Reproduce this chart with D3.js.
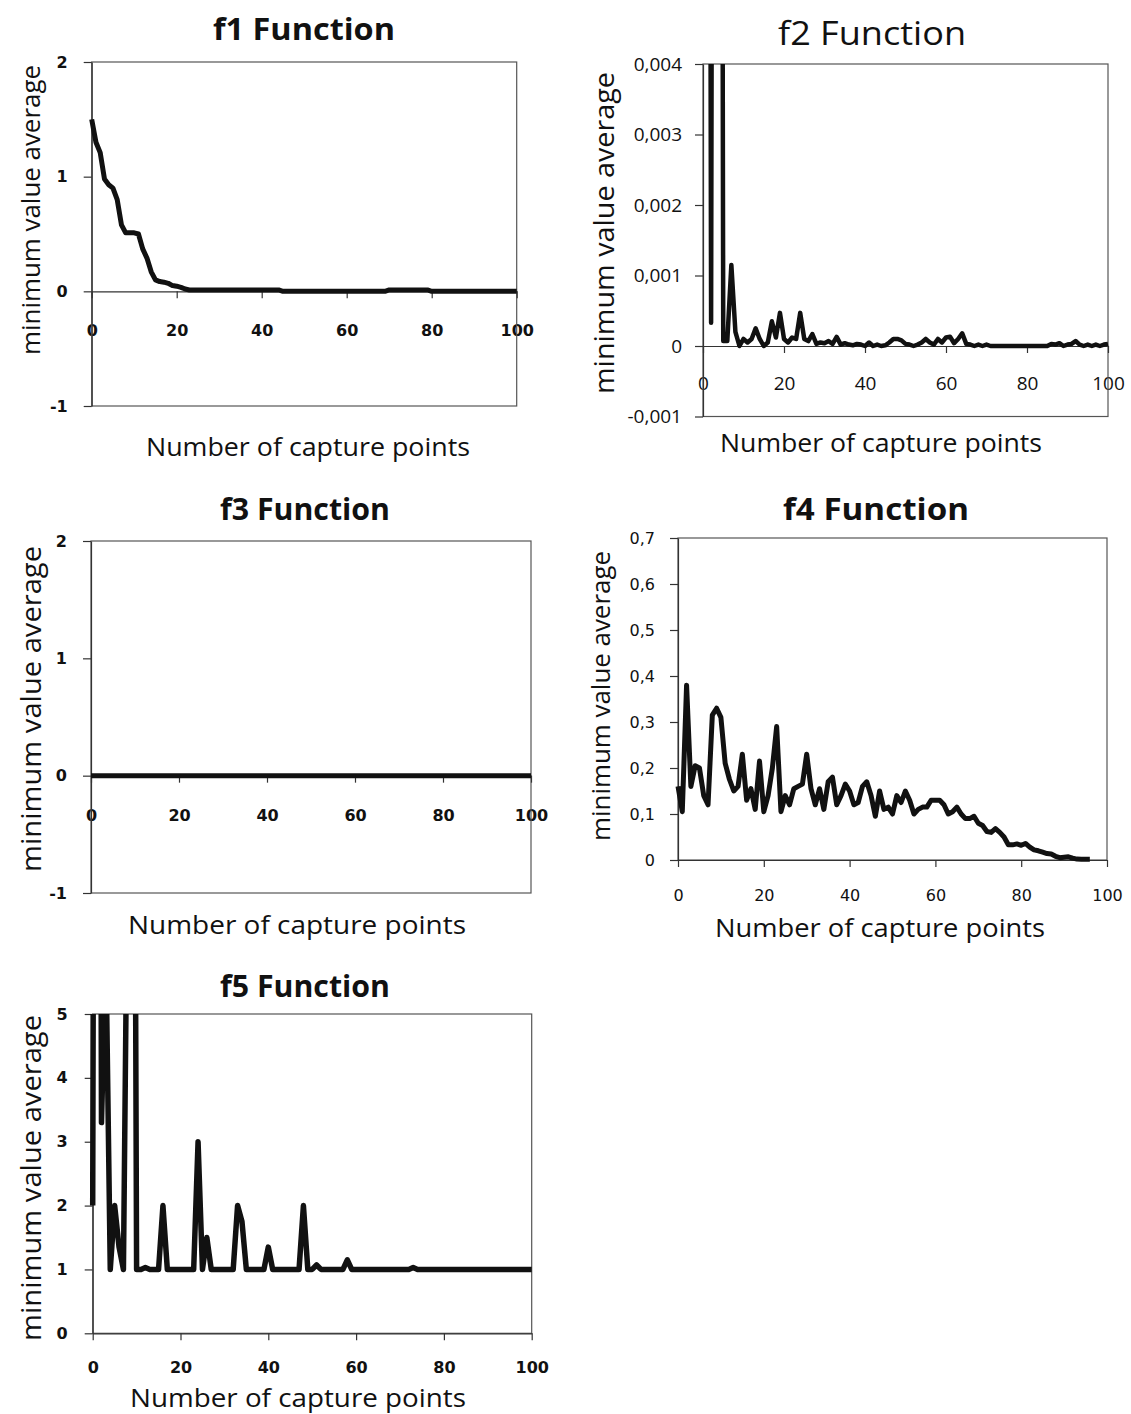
<!DOCTYPE html>
<html>
<head>
<meta charset="utf-8">
<script src="https://cdn.jsdelivr.net/npm/d3@7"></script>
<style>
  body { margin: 0; background: #fff; }
  svg { display: block; }
</style>
</head>
<body>
<svg width="1131" height="1414"></svg>
<script>
// capture point index on the x axis
var capturePoints = d3.range(0, 101);
var xTicks = [0, 20, 40, 60, 80, 100];

var f1Ticks = [-1, 0, 1, 2];
var f2Ticks = [-0.001, 0, 0.001, 0.002, 0.003, 0.004];
var f3Ticks = [-1, 0, 1, 2];
var f4Ticks = [0, 0.1, 0.2, 0.3, 0.4, 0.5, 0.6, 0.7];
var f5Ticks = [0, 1, 2, 3, 4, 5];

var f1Values = [
  1.50, 1.30, 1.21, 0.98, 0.93, 0.90, 0.80, 0.58, 0.51, 0.51,
  0.51, 0.50, 0.37, 0.29, 0.17, 0.10, 0.085, 0.08, 0.07, 0.05,
  0.045, 0.035, 0.02, 0.012, 0.012, 0.012, 0.012, 0.012, 0.012, 0.012,
  0.012, 0.012, 0.012, 0.012, 0.012, 0.012, 0.012, 0.012, 0.012, 0.012,
  0.012, 0.012, 0.012, 0.012, 0.012, 0, 0, 0, 0, 0,
  0, 0, 0, 0, 0, 0, 0, 0, 0, 0,
  0, 0, 0, 0, 0, 0, 0, 0, 0, 0,
  0.012, 0.012, 0.012, 0.012, 0.012, 0.012, 0.012, 0.012, 0.012, 0.012,
  0, 0, 0, 0, 0, 0, 0, 0, 0, 0,
  0, 0, 0, 0, 0, 0, 0, 0, 0, 0,
  0
];

var f2Values = [
  0.03, 0.03, 0.00033, 0.03, 0.03, 0.00007, 0.00007, 0.00115, 0.0002, 0,
  0.0001, 0.00005, 0.0001, 0.00025, 0.0001, 0, 0.00005, 0.00035, 0.00012, 0.00047,
  0.0001, 0.00005, 0.00012, 0.0001, 0.00047, 0.0001, 0.00007, 0.00017, 0.00003, 0.00005,
  0.00004, 0.00007, 0.00003, 0.00013, 0.00002, 0.00004, 0.00002, 0.00001, 0.00003, 0.00002,
  0, 0.00005, 0, 0.00002, 0, 0.00001, 0.00005, 0.0001, 0.0001, 0.00008,
  0.00003, 0.00002, 0, 0.00002, 0.00005, 0.0001, 0.00005, 0.00002, 0.0001, 0.00005,
  0.00012, 0.00013, 0.00004, 0.0001, 0.00018, 0.00003, 0.00002, 0, 0.00002, 0,
  0.00002, 0, 0, 0, 0, 0, 0, 0, 0, 0,
  0, 0, 0, 0, 0, 0, 0.00003, 0.00002, 0.00004, 0,
  0.00002, 0.00003, 0.00007, 0.00002, 0, 0.00002, 0, 0.00002, 0, 0.00002,
  0.00003
];

var f3Values = [
  0, 0, 0, 0, 0, 0, 0, 0, 0, 0,
  0, 0, 0, 0, 0, 0, 0, 0, 0, 0,
  0, 0, 0, 0, 0, 0, 0, 0, 0, 0,
  0, 0, 0, 0, 0, 0, 0, 0, 0, 0,
  0, 0, 0, 0, 0, 0, 0, 0, 0, 0,
  0, 0, 0, 0, 0, 0, 0, 0, 0, 0,
  0, 0, 0, 0, 0, 0, 0, 0, 0, 0,
  0, 0, 0, 0, 0, 0, 0, 0, 0, 0,
  0, 0, 0, 0, 0, 0, 0, 0, 0, 0,
  0, 0, 0, 0, 0, 0, 0, 0, 0, 0,
  0
];

var f4Values = [
  0.16, 0.105, 0.38, 0.16, 0.205, 0.20, 0.14, 0.12, 0.315, 0.33,
  0.31, 0.21, 0.175, 0.15, 0.16, 0.23, 0.13, 0.155, 0.11, 0.215,
  0.105, 0.14, 0.20, 0.29, 0.105, 0.14, 0.12, 0.155, 0.16, 0.165,
  0.23, 0.155, 0.12, 0.155, 0.11, 0.17, 0.18, 0.12, 0.14, 0.165,
  0.15, 0.12, 0.125, 0.16, 0.17, 0.14, 0.095, 0.15, 0.11, 0.115,
  0.10, 0.14, 0.125, 0.15, 0.13, 0.10, 0.11, 0.115, 0.115, 0.13,
  0.13, 0.13, 0.12, 0.10, 0.105, 0.115, 0.10, 0.09, 0.09, 0.095,
  0.08, 0.075, 0.062, 0.06, 0.068, 0.06, 0.05, 0.033, 0.033, 0.035,
  0.032, 0.036, 0.028, 0.022, 0.02, 0.017, 0.014, 0.013, 0.008, 0.005,
  0.006, 0.007, 0.004, 0.002, 0.0015, 0.0015, 0.0015, null, null, null,
  null
];

var f5Values = [
  2.0, 30, 3.3, 6, 1, 2.0, 1.35, 1, 8, 20,
  1, 1, 1.03, 1, 1, 1, 2.0, 1, 1, 1,
  1, 1, 1, 1, 3.0, 1, 1.5, 1, 1, 1,
  1, 1, 1, 2.0, 1.75, 1, 1, 1, 1, 1,
  1.35, 1, 1, 1, 1, 1, 1, 1, 2.0, 1,
  1, 1.07, 1, 1, 1, 1, 1, 1, 1.15, 1,
  1, 1, 1, 1, 1, 1, 1, 1, 1, 1,
  1, 1, 1, 1.03, 1, 1, 1, 1, 1, 1,
  1, 1, 1, 1, 1, 1, 1, 1, 1, 1,
  1, 1, 1, 1, 1, 1, 1, 1, 1, 1,
  1
];

var svg = d3.select("svg");

var locale = d3.formatLocale({ decimal: ",", thousands: ".", grouping: [3], currency: ["", ""], minus: "-" });
var fmtInt = locale.format("d");
var fmt3 = function (d) { return d === 0 ? "0" : locale.format(".3f")(d); };
var fmt1 = function (d) { return d === 0 ? "0" : locale.format(".1f")(d); };

var panels = [
  { id: "f1", title: "f1 Function", bold: true, titleX: 304, titleY: 28, titleLen: 182, titleSize: 30,
    left: 91.7, right: 516.7, top: 62, bottom: 406, yDomain: [-1, 2], yTicks: f1Ticks, yFmt: fmtInt, yPad: 16,
    tickFont: "DejaVu Sans", tickSize: 16, tickWeight: 700, xLabelY: 330, lineWidth: 5,
    ylabX: 30, ylabY: 210, ylabLen: 290, ylabSize: 26, xlabX: 308, xlabY: 446, xlabLen: 324, values: f1Values },
  { id: "f2", title: "f2 Function", bold: false, titleX: 872, titleY: 32, titleLen: 188, titleSize: 32,
    left: 703, right: 1108, top: 64, bottom: 416.5, yDomain: [-0.001, 0.004], yTicks: f2Ticks, yFmt: fmt3, yPad: 13,
    tickFont: "Open Sans", tickSize: 19, tickWeight: 400, xLabelY: 383, lineWidth: 4.5,
    ylabX: 603, ylabY: 233, ylabLen: 322, ylabSize: 28, xlabX: 881, xlabY: 442, xlabLen: 322, values: f2Values },
  { id: "f3", title: "f3 Function", bold: true, titleX: 305, titleY: 508, titleLen: 170, titleSize: 30,
    left: 91, right: 531, top: 541, bottom: 893, yDomain: [-1, 2], yTicks: f3Ticks, yFmt: fmtInt, yPad: 16,
    tickFont: "DejaVu Sans", tickSize: 16, tickWeight: 700, xLabelY: 815, lineWidth: 5,
    ylabX: 30, ylabY: 709, ylabLen: 326, ylabSize: 28, xlabX: 297, xlabY: 924, xlabLen: 338, values: f3Values },
  { id: "f4", title: "f4 Function", bold: true, titleX: 876, titleY: 508, titleLen: 186, titleSize: 30,
    left: 678, right: 1107, top: 538, bottom: 860, yDomain: [0, 0.7], yTicks: f4Ticks, yFmt: fmt1, yPad: 15,
    tickFont: "DejaVu Sans", tickSize: 16, tickWeight: 400, xLabelY: 895, lineWidth: 5,
    ylabX: 600, ylabY: 696, ylabLen: 290, ylabSize: 26, xlabX: 880, xlabY: 927, xlabLen: 330, values: f4Values },
  { id: "f5", title: "f5 Function", bold: true, titleX: 305, titleY: 985, titleLen: 170, titleSize: 30,
    left: 92.7, right: 531.7, top: 1014, bottom: 1333.3, yDomain: [0, 5], yTicks: f5Ticks, yFmt: fmtInt, yPad: 17,
    tickFont: "DejaVu Sans", tickSize: 16, tickWeight: 700, xLabelY: 1367, lineWidth: 5.5,
    ylabX: 30, ylabY: 1178, ylabLen: 326, ylabSize: 28, xlabX: 298, xlabY: 1397, xlabLen: 336, values: f5Values }
];

panels.forEach(drawPanel);

function drawPanel(p) {
  var x = d3.scaleLinear().domain([0, 100]).range([p.left, p.right]);
  var y = d3.scaleLinear().domain(p.yDomain).range([p.bottom, p.top]);
  var g = svg.append("g").attr("class", "panel " + p.id);

  // title
  g.append("text")
    .attr("x", p.titleX)
    .attr("y", p.titleY)
    .attr("text-anchor", "middle")
    .attr("dominant-baseline", "central")
    .attr("font-family", "Open Sans")
    .attr("font-weight", p.bold ? 700 : 400)
    .attr("font-size", p.titleSize)
    .attr("textLength", p.titleLen)
    .attr("lengthAdjust", "spacingAndGlyphs")
    .attr("fill", "#111")
    .text(p.title);

  // x tick labels (drawn first so the axis lines pass over them)
  var xl = g.append("g")
    .attr("transform", "translate(0," + p.xLabelY + ")")
    .call(d3.axisBottom(x).tickValues(xTicks).tickSize(0).tickPadding(0));
  xl.select(".domain").remove();
  xl.selectAll("text")
    .attr("y", 0)
    .attr("dy", "0.36em")
    .attr("fill", "#111")
    .attr("font-family", p.tickFont)
    .attr("font-size", p.tickSize)
    .attr("font-weight", p.tickWeight);

  // plot frame
  g.append("rect")
    .attr("x", p.left)
    .attr("y", p.top)
    .attr("width", p.right - p.left)
    .attr("height", p.bottom - p.top)
    .attr("fill", "none")
    .attr("stroke", "#555")
    .attr("stroke-width", 1.2);

  // x axis at zero
  var xa = g.append("g")
    .attr("transform", "translate(0," + y(0) + ")")
    .call(d3.axisBottom(x).tickValues(xTicks).tickSize(7).tickSizeOuter(0).tickFormat(""));
  xa.selectAll("path, line").attr("stroke", "#333").attr("stroke-width", 1.2);

  // y axis
  var ya = g.append("g")
    .attr("transform", "translate(" + p.left + ",0)")
    .call(d3.axisLeft(y).tickValues(p.yTicks).tickSize(8).tickSizeOuter(0).tickPadding(p.yPad).tickFormat(p.yFmt));
  ya.selectAll("path, line").attr("stroke", "#333").attr("stroke-width", 1.2);
  ya.selectAll("text")
    .attr("fill", "#111")
    .attr("font-family", p.tickFont)
    .attr("font-size", p.tickSize)
    .attr("font-weight", p.tickWeight);

  // data line, clipped at the top of the plot
  g.append("clipPath")
    .attr("id", "clip-" + p.id)
    .append("rect")
    .attr("x", p.left - 5)
    .attr("y", p.top)
    .attr("width", p.right - p.left + 10)
    .attr("height", p.bottom - p.top + 8);

  var line = d3.line()
    .defined(function (d) { return d != null; })
    .x(function (d, i) { return x(capturePoints[i]); })
    .y(function (d) { return y(d); });

  g.append("path")
    .datum(p.values)
    .attr("clip-path", "url(#clip-" + p.id + ")")
    .attr("fill", "none")
    .attr("stroke", "#111")
    .attr("stroke-width", p.lineWidth)
    .attr("stroke-linejoin", "round")
    .attr("d", line);

  // axis titles
  g.append("text")
    .attr("transform", "translate(" + p.ylabX + "," + p.ylabY + ") rotate(-90)")
    .attr("text-anchor", "middle")
    .attr("dominant-baseline", "central")
    .attr("font-family", "Open Sans")
    .attr("font-size", p.ylabSize)
    .attr("textLength", p.ylabLen)
    .attr("lengthAdjust", "spacingAndGlyphs")
    .attr("fill", "#111")
    .text("minimum value average");

  g.append("text")
    .attr("x", p.xlabX)
    .attr("y", p.xlabY)
    .attr("text-anchor", "middle")
    .attr("dominant-baseline", "central")
    .attr("font-family", "Open Sans")
    .attr("font-size", 25)
    .attr("textLength", p.xlabLen)
    .attr("lengthAdjust", "spacingAndGlyphs")
    .attr("fill", "#111")
    .text("Number of capture points");
}
</script>
</body>
</html>
